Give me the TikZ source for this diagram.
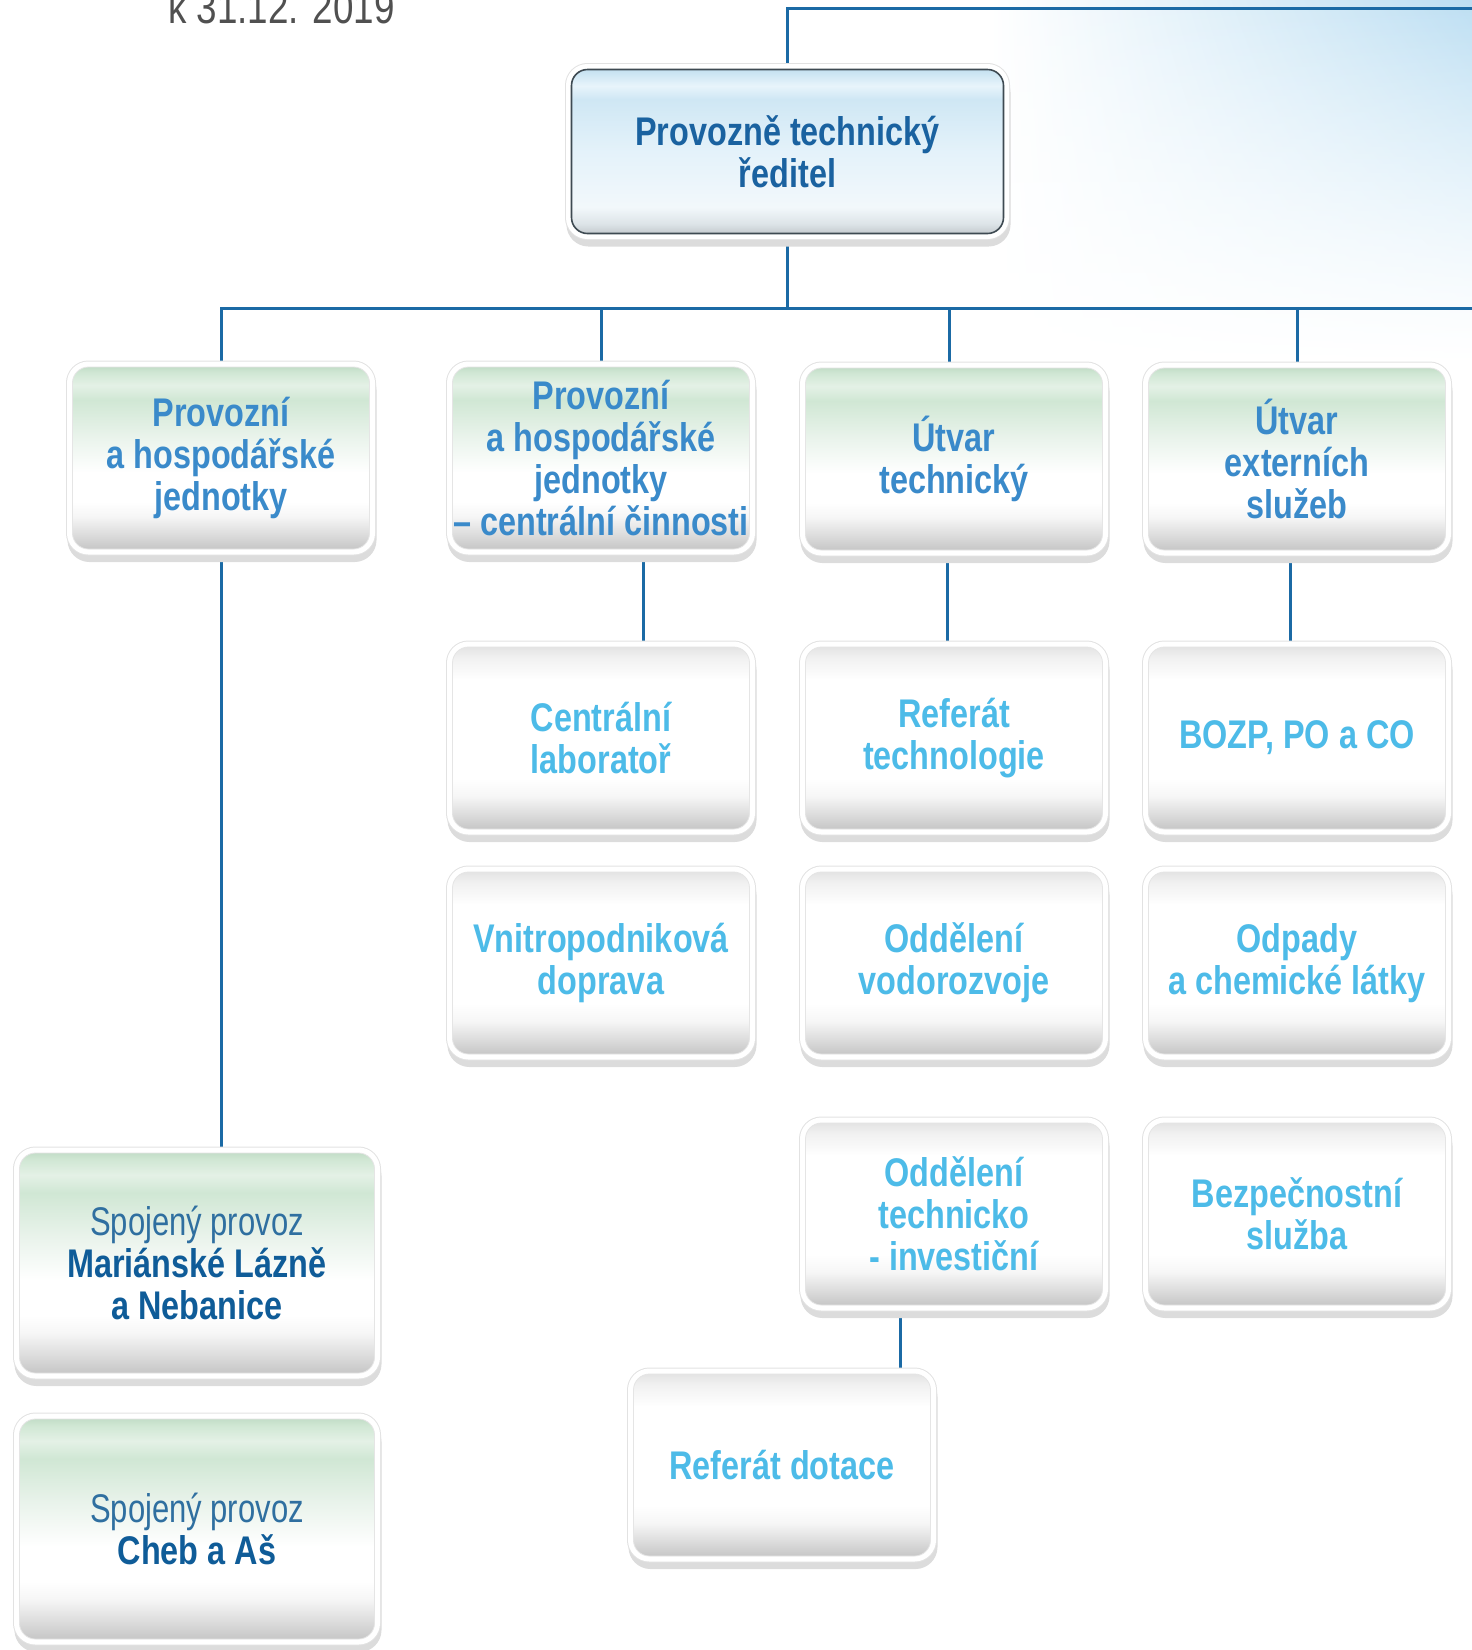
\documentclass[tikz,border=0pt]{standalone}
\usepackage{fontspec}
\setmainfont{Liberation Sans}[FakeStretch=0.81]
\newfontfamily\lightfont{Liberation Sans}[FakeStretch=0.775]
\newfontfamily\titlefont{Liberation Sans}[FakeStretch=0.8]
\usetikzlibrary{calc,shadings,fadings}

\definecolor{linecol}{HTML}{1B6AA5}
\definecolor{headtxt}{HTML}{1A62A0}
\definecolor{greentxt}{HTML}{3A8ACA}
\definecolor{whitetxt}{HTML}{4DBBE8}
\definecolor{darktxt}{HTML}{0F5C98}
\definecolor{lighttxt}{HTML}{2F6FA0}
\definecolor{titlegray}{HTML}{505050}
\definecolor{bgblue}{HTML}{BCDEF2}
\definecolor{bgbluel}{HTML}{DDEFF9}
\definecolor{shadowgray}{HTML}{DCDCDC}
\definecolor{rimgray}{HTML}{E2E2E2}
\definecolor{topedge}{HTML}{3E4A52}
\definecolor{sgray}{HTML}{C6C6C6}
\definecolor{sgrayl}{HTML}{DCDCDC}
\definecolor{sgrayw}{HTML}{F6F6F6}
\definecolor{sgreen}{HTML}{D0E7D4}
\definecolor{sgreenl}{HTML}{E9F3EB}
\definecolor{sgreenhi}{HTML}{E4F1E6}
\definecolor{sgreend}{HTML}{C3DDC8}
\definecolor{wtop}{HTML}{F1F1F1}
\definecolor{wtopd}{HTML}{E4E4E4}
\definecolor{bgray}{HTML}{C5CBCF}
\definecolor{bgrayl}{HTML}{DDE4E8}
\definecolor{bwhite}{HTML}{F2F8FB}
\definecolor{bmid}{HTML}{E4F2FA}
\definecolor{bblue}{HTML}{CFE7F4}
\definecolor{bbluehi}{HTML}{E8F4FB}
\definecolor{bblued}{HTML}{C4E0EF}

\pgfdeclareverticalshading{greenshade}{100bp}{color(0bp)=(sgray); color(25bp)=(sgray); color(29bp)=(sgrayl); color(34bp)=(sgrayw); color(38bp)=(white); color(46bp)=(white); color(56bp)=(sgreenl); color(66bp)=(sgreen); color(70bp)=(sgreenhi); color(73.5bp)=(sgreen); color(75bp)=(sgreend); color(100bp)=(sgreend)}
\pgfdeclareverticalshading{whiteshade}{100bp}{color(0bp)=(sgray); color(25bp)=(sgray); color(29bp)=(sgrayl); color(34bp)=(sgrayw); color(39bp)=(white); color(66bp)=(white); color(72bp)=(wtop); color(75bp)=(wtopd); color(100bp)=(wtopd)}
\pgfdeclareverticalshading{topshade}{100bp}{color(0bp)=(bgray); color(25bp)=(bgray); color(28bp)=(bgrayl); color(33bp)=(bwhite); color(50bp)=(bmid); color(66bp)=(bblue); color(70bp)=(bbluehi); color(73.5bp)=(bblue); color(75bp)=(bblued); color(100bp)=(bblued)}

\pgfdeclarehorizontalshading{sideshade}{100bp}{color(0bp)=(pgftransparent!0); color(5bp)=(pgftransparent!100); color(95bp)=(pgftransparent!100); color(100bp)=(pgftransparent!0)}
\pgfdeclarefading{sidefade}{\pgfuseshading{sideshade}}

\pgfdeclarelayer{back}
\pgfdeclarelayer{lines}
\pgfsetlayers{back,lines,main}

\tikzset{
  boxbase/.style={rounded corners=16pt, inner sep=0pt, align=center,
    font=\fontsize{40}{42}\selectfont\bfseries,
    preaction={fill=shadowgray, draw=shadowgray, line width=12pt,
      transform canvas={xshift=1pt,yshift=-7pt}},
    preaction={draw=rimgray, line width=13pt},
    preaction={draw=white, line width=11pt},
    postaction={fill=black, fill opacity=0.10, path fading=sidefade}},
  stdsize/.style={minimum width=297pt, minimum height=182pt},
  greenbox/.style={boxbase, stdsize, shade, shading=greenshade, draw=black!10, line width=0.8pt, text=greentxt},
  whitebox/.style={boxbase, stdsize, shade, shading=whiteshade, draw=black!10, line width=0.8pt, text=whitetxt},
  unitbox/.style={boxbase, minimum width=355pt, minimum height=220pt, shade, shading=greenshade, draw=black!10, line width=0.8pt, text=darktxt},
  headbox/.style={boxbase, minimum width=432pt, minimum height=164pt, shade, shading=topshade, draw=topedge, line width=1.6pt, text=headtxt},
  conn/.style={draw=linecol, line width=3pt}
}

\begin{document}
\begin{tikzpicture}[x=1pt, y=-1pt]
\useasboundingbox (0,0) rectangle (1472,1650);

\begin{pgfonlayer}{back}
  \shade[upper left=white, lower left=white, upper right=bgblue, lower right=bgbluel, path fading=south] (990,0) rectangle (1472,362);
\end{pgfonlayer}

\node[anchor=base west, inner sep=0pt, text=titlegray, font=\titlefont\fontsize{46}{50}\selectfont] (title) at (168,23) {k 31.12. 2019};

\node[headbox] (top) at (787.5,151.5) {Provozně technický\\ředitel};

\node[greenbox] (b1) at (221,458) {Provozní\\a hospodářské\\jednotky};
\node[greenbox] (b2) at (601,458) {Provozní\\a hospodářské\\jednotky\\– centrální činnosti};
\node[greenbox] (b3) at (954,459) {Útvar\\technický};
\node[greenbox] (b4) at (1297,459) {Útvar\\externích\\služeb};

\node[whitebox] (r2b) at (601,738) {Centrální\\laboratoř};
\node[whitebox] (r2c) at (954,738) {Referát\\technologie};
\node[whitebox] (r2d) at (1297,738) {BOZP, PO a CO};

\node[whitebox] (r3b) at (601,963) {Vnitropodniková\\doprava};
\node[whitebox] (r3c) at (954,963) {Oddělení\\vodorozvoje};
\node[whitebox] (r3d) at (1297,963) {Odpady\\a chemické látky};

\node[whitebox] (r4c) at (954,1214) {Oddělení\\technicko\\- investiční};
\node[whitebox] (r4d) at (1297,1214) {Bezpečnostní\\služba};

\node[whitebox] (dot) at (782,1465) {Referát dotace};

\node[unitbox] (sp1) at (197,1263) {{\lightfont\mdseries\color{lighttxt}Spojený provoz}\\Mariánské Lázně\\a Nebanice};
\node[unitbox] (sp2) at (197,1529) {{\lightfont\mdseries\color{lighttxt}Spojený provoz}\\Cheb a Aš};

\coordinate (topR) at (1472,8);
\coordinate (busR) at (1472,308);

\begin{pgfonlayer}{lines}
  \draw[conn] (top.north) |- (topR);
  \draw[conn] (top.south) -- (top.south |- busR);
  \draw[conn] (b1.north) |- (busR);
  \draw[conn] (b2.north) -- (b2.north |- busR);
  \draw[conn] ([xshift=-5pt]b3.north) -- ([xshift=-5pt]b3.north |- busR);
  \draw[conn] (b4.north) -- (b4.north |- busR);
  \draw[conn] ([xshift=42pt]b2.south) -- ([xshift=42pt]b2.south |- r2b.north);
  \draw[conn] ([xshift=-7pt]b3.south) -- ([xshift=-7pt]b3.south |- r2c.north);
  \draw[conn] ([xshift=-7pt]b4.south) -- ([xshift=-7pt]b4.south |- r2d.north);
  \draw[conn] (b1.south) -- (b1.south |- sp1.north);
  \draw[conn] ([xshift=-54pt]r4c.south) -- ([xshift=-54pt]r4c.south |- dot.north);
\end{pgfonlayer}
\end{tikzpicture}
\end{document}
